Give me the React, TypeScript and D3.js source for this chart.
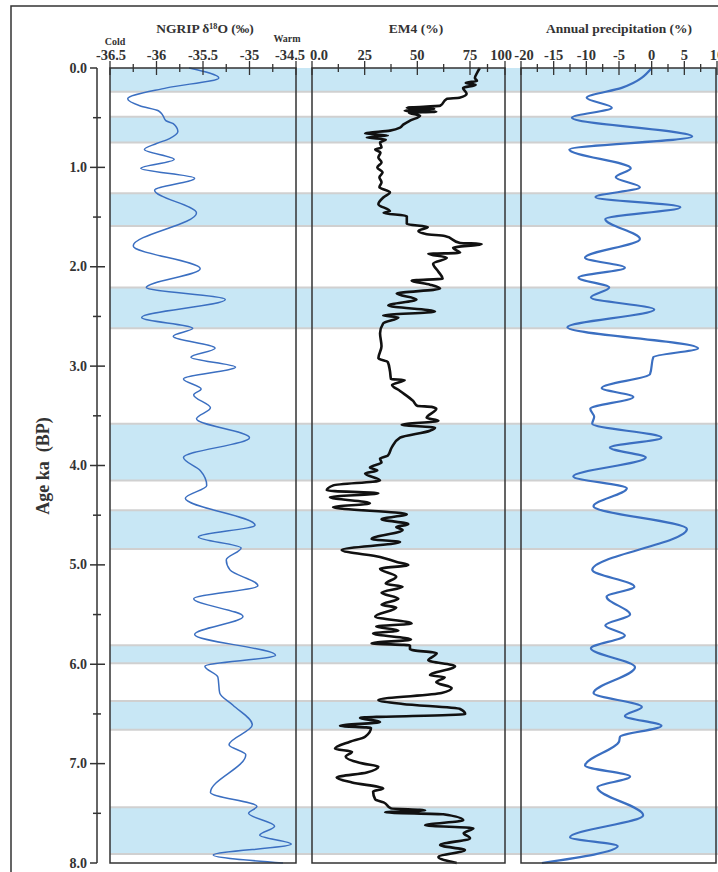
import React from 'react';
import * as d3 from 'd3';

// NGRIP d18O (per mil) vs age (ka BP)
const ngripAge = [0.0, 0.1, 0.2, 0.31, 0.38, 0.43, 0.48, 0.53, 0.56, 0.64, 0.71, 0.76, 0.82, 0.92, 1.01, 1.11, 1.23, 1.46, 1.79, 2.02, 2.21, 2.33, 2.51, 2.62, 2.7, 2.82, 2.91, 3.01, 3.13, 3.23, 3.29, 3.42, 3.53, 3.72, 3.92, 4.05, 4.2, 4.33, 4.6, 4.72, 4.83, 4.95, 5.05, 5.21, 5.34, 5.52, 5.7, 5.91, 6.02, 6.13, 6.29, 6.41, 6.61, 6.81, 6.91, 7.29, 7.43, 7.5, 7.63, 7.72, 7.81, 7.92, 8.0];
const ngripVal = [-35.65, -35.33, -35.89, -36.31, -36.18, -35.98, -35.93, -35.9, -35.82, -35.77, -35.86, -36.0, -36.13, -35.81, -36.17, -35.59, -36.02, -35.57, -36.25, -35.53, -36.11, -35.26, -36.16, -35.61, -35.82, -35.37, -35.63, -35.15, -35.71, -35.52, -35.6, -35.42, -35.57, -35.0, -35.71, -35.53, -35.46, -35.69, -34.94, -35.55, -35.09, -35.25, -35.21, -34.91, -35.6, -35.07, -35.59, -34.72, -35.48, -35.34, -35.32, -35.18, -34.97, -35.22, -35.04, -35.42, -34.92, -35.01, -34.73, -34.89, -34.55, -35.39, -34.64];

// EM4 (%) vs age
const em4Age = [0.0, 0.05, 0.1, 0.13, 0.15, 0.17, 0.2, 0.26, 0.3, 0.31, 0.38, 0.4, 0.41, 0.43, 0.44, 0.45, 0.48, 0.53, 0.57, 0.6, 0.63, 0.66, 0.68, 0.7, 0.72, 0.75, 0.8, 0.82, 0.85, 0.9, 0.95, 1.0, 1.05, 1.1, 1.15, 1.2, 1.25, 1.3, 1.37, 1.44, 1.46, 1.49, 1.57, 1.6, 1.64, 1.67, 1.69, 1.76, 1.77, 1.81, 1.86, 1.87, 1.91, 1.97, 2.05, 2.12, 2.14, 2.18, 2.22, 2.27, 2.33, 2.39, 2.45, 2.49, 2.51, 2.57, 2.67, 2.8, 2.92, 2.96, 3.05, 3.13, 3.14, 3.19, 3.25, 3.35, 3.4, 3.41, 3.43, 3.52, 3.55, 3.59, 3.62, 3.65, 3.72, 3.82, 3.9, 3.93, 3.97, 4.02, 4.05, 4.08, 4.15, 4.2, 4.25, 4.28, 4.32, 4.38, 4.42, 4.49, 4.54, 4.59, 4.62, 4.65, 4.74, 4.77, 4.85, 4.92, 4.97, 5.0, 5.04, 5.12, 5.19, 5.22, 5.28, 5.34, 5.4, 5.43, 5.52, 5.59, 5.62, 5.66, 5.69, 5.75, 5.79, 5.81, 5.85, 5.89, 5.96, 6.02, 6.11, 6.13, 6.18, 6.24, 6.29, 6.36, 6.4, 6.45, 6.5, 6.54, 6.58, 6.62, 6.64, 6.73, 6.78, 6.85, 6.88, 6.93, 7.0, 7.03, 7.09, 7.14, 7.19, 7.25, 7.28, 7.36, 7.39, 7.45, 7.47, 7.49, 7.51, 7.57, 7.62, 7.65, 7.7, 7.75, 7.82, 7.87, 7.94, 8.0];
const em4Val = [82, 80, 78.5, 80, 73, 79, 71.7, 73.4, 70, 64, 60.8, 45, 58, 44, 59, 46, 51.3, 46.5, 43.3, 41.8, 37, 25.2, 36, 26, 35, 32.3, 33, 30, 32.5, 31.5, 33, 31, 33.5, 32, 33, 32, 37, 34, 31.5, 37, 34, 45, 45, 55, 50.5, 54, 63, 70.3, 83.3, 67, 70.3, 55.2, 64, 57.5, 60, 62, 47.3, 56, 60.8, 40.2, 49.6, 36.2, 58.4, 33.8, 41, 33.8, 32.3, 33, 31.5, 36, 37, 37.5, 44, 38, 41.8, 48, 50, 56.8, 59, 54.4, 60, 42.6, 58.4, 56, 41.8, 37.8, 36, 32.3, 33, 27.5, 31, 25.2, 32.3, 10.1, 7, 31.5, 8.5, 27.5, 10, 45, 33, 45.7, 40, 43, 28.3, 41.8, 14.1, 32.3, 40.2, 45.7, 32.3, 40, 35, 43, 33, 41, 33, 40, 30, 47.3, 30.5, 41, 29, 47, 28.3, 46.5, 46.5, 59.2, 55.2, 67.9, 56, 63, 59, 66.3, 61.5, 31.5, 43, 70.3, 72.7, 22.8, 32.3, 13.3, 28, 25.2, 18, 10.9, 19, 16, 24.4, 31.5, 26, 11.7, 19, 33.8, 29, 30, 34, 37.5, 53.7, 34.7, 62.3, 71.8, 53.7, 77.4, 72, 75, 60.8, 72.6, 60, 68.7];

// Annual precipitation anomaly (%) vs age
const precAge = [0.0, 0.2, 0.3, 0.4, 0.5, 0.69, 0.82, 1.01, 1.1, 1.2, 1.3, 1.4, 1.52, 1.72, 1.91, 2.01, 2.11, 2.21, 2.31, 2.43, 2.61, 2.82, 2.91, 3.08, 3.22, 3.31, 3.43, 3.51, 3.58, 3.72, 3.82, 3.92, 4.11, 4.23, 4.41, 4.64, 5.05, 5.22, 5.32, 5.5, 5.61, 5.71, 5.84, 6.03, 6.29, 6.43, 6.52, 6.62, 6.73, 6.78, 7.02, 7.13, 7.24, 7.52, 7.74, 7.83, 8.0];
const precVal = [0, -4.6, -9.95, -6.1, -12.2, 6.2, -12.6, -3.2, -5.5, -1.8, -8.6, 4.4, -7.1, -1.8, -10.2, -4.1, -11.2, -6.5, -9.3, 0.4, -12.9, 7.1, 0.25, -0.25, -7.65, -2.8, -9.4, -8.8, -9.1, 1.5, -6.4, -0.9, -12.0, -3.8, -8.9, 5.4, -9.1, -2.65, -6.9, -3.3, -7.1, -4.1, -9.3, -2.55, -8.9, -1.5, -4.1, 1.5, -4.85, -5.0, -10.2, -3.3, -8.3, -1.3, -12.5, -5.2, -16.8];

// shaded intervals (ka)
const bandStart = [0.0, 0.49, 1.26, 2.21, 3.58, 4.45, 5.81, 6.37, 7.44];
const bandEnd = [0.24, 0.75, 1.59, 2.62, 4.15, 4.84, 5.99, 6.66, 7.91];

const ageMajor = [0, 1, 2, 3, 4, 5, 6, 7, 8];
const ageMinor = [0.5, 1.5, 2.5, 3.5, 4.5, 5.5, 6.5, 7.5];

const ngripMajor = [-36.5, -36, -35.5, -35, -34.5];
const ngripMinor = [-36.25, -35.75, -35.25, -34.75];
const ngripLabels = ['-36.5', '-36', '-35.5', '-35', '-34.5'];
const em4Major = [0, 25, 50, 75, 100];
const em4Minor = [12.5, 37.5, 62.5, 87.5];
const em4Labels = ['0.0', '25', '50', '75', '100'];
const precMajor = [-20, -15, -10, -5, 0, 5, 10];
const precMinor = [-17.5, -12.5, -7.5, -2.5, 2.5, 7.5];
const precLabels = ['-20', '-15', '-10', '-5', '0', '5', '10'];

const font = '"Liberation Serif", "Times New Roman", serif';
const blue = '#3b6fc1';

export default function App() {
  const y = d3.scaleLinear().domain([0, 8]).range([68, 863]);
  const top = y(0);
  const bottom = y(8);

  const xN = d3.scaleLinear().domain([-36.5, -34.5]).range([110, 296]);
  const xE = d3.scaleLinear().domain([0, 75, 100]).range([312, 470, 505]);
  const xP = d3.scaleLinear().domain([-20, 10]).range([521, 717]);

  const panels = [
    { x: xN, major: ngripMajor, minor: ngripMinor, labels: ngripLabels, shift: [1, 0, 0, 0, -6], left: 110, right: 296, title: 'NGRIP δ\u00B9\u2078O (‰)', cx: 205 },
    { x: xE, major: em4Major, minor: em4Minor, labels: em4Labels, shift: [7, 0, 0, 0, -4], left: 312, right: 505, title: 'EM4 (%)', cx: 416 },
    { x: xP, major: precMajor, minor: precMinor, labels: precLabels, shift: [3, 0, 0, 0, 0, 0, 0], left: 521, right: 716, title: 'Annual precipitation (%)', cx: 619 },
  ];

  const mk = (sx: any, ages: number[], vals: number[]) =>
    d3.line<number>()
      .x((_, i) => sx(vals[i]))
      .y((a) => y(a))
      .curve(d3.curveMonotoneY)(ages) as string;

  return (
    <svg width={718} height={872} style={{ position: 'absolute', left: 0, top: 0, background: '#fff' }} fontFamily={font} fontWeight="bold">
      <rect x={11} y={6} width={730} height={890} fill="none" stroke="#333" strokeWidth={1.5} />

      {bandStart.map((s, i) => (
        <g key={'b' + i}>
          <rect x={110} y={y(s)} width={610} height={y(bandEnd[i]) - y(s)} fill="#c8e7f5" />
          {s > 0 && <line x1={110} x2={720} y1={y(s)} y2={y(s)} stroke="#d0d0d0" strokeWidth={2} />}
          <line x1={110} x2={720} y1={y(bandEnd[i])} y2={y(bandEnd[i])} stroke="#d0d0d0" strokeWidth={2} />
        </g>
      ))}

      <path d={mk(xN, ngripAge, ngripVal)} fill="none" stroke={blue} strokeWidth={1.5} />
      <path d={mk(xE, em4Age, em4Val)} fill="none" stroke="#111" strokeWidth={2.6} strokeLinejoin="round" />
      <path d={mk(xP, precAge, precVal)} fill="none" stroke={blue} strokeWidth={2.2} />

      {panels.map((p, k) => (
        <g key={'p' + k}>
          <rect x={p.left} y={top} width={p.right - p.left} height={bottom - top} fill="none" stroke="#333" strokeWidth={1.5} />
          {p.major.map((v) => (
            <line key={'M' + v} x1={p.x(v)} x2={p.x(v)} y1={top - 7} y2={top + 7} stroke="#333" strokeWidth={1.3} />
          ))}
          {p.minor.map((v) => (
            <line key={'m' + v} x1={p.x(v)} x2={p.x(v)} y1={top - 4} y2={top + 4} stroke="#333" strokeWidth={1.3} />
          ))}
          {p.major.map((v, i) => (
            <text key={'t' + v} x={p.x(v) + p.shift[i]} y={60} textAnchor="middle" fontSize={14.5} fill="#333">{p.labels[i]}</text>
          ))}
          <text x={p.cx} y={33} textAnchor="middle" fontSize={13.5} fill="#333">{p.title}</text>
        </g>
      ))}

      <text x={115} y={45} textAnchor="middle" fontSize={10} fill="#333">Cold</text>
      <text x={287} y={42} textAnchor="middle" fontSize={10} fill="#333">Warm</text>

      <line x1={97} x2={97} y1={top} y2={bottom} stroke="#333" strokeWidth={1.5} />
      {ageMajor.map((a) => (
        <g key={'a' + a}>
          <line x1={90} x2={a === 0 || a === 8 ? 97 : 105} y1={y(a)} y2={y(a)} stroke="#333" strokeWidth={1.5} />
          <text x={87} y={y(a) + 4.5} textAnchor="end" fontSize={14} fill="#333">{a.toFixed(1)}</text>
        </g>
      ))}
      {ageMinor.map((a) => (
        <line key={'am' + a} x1={93} x2={101} y1={y(a)} y2={y(a)} stroke="#333" strokeWidth={1.5} />
      ))}
      <text transform="translate(49,466) rotate(-90)" textAnchor="middle" fontSize={18} fill="#333" style={{ whiteSpace: 'pre' }}>{'Age ka  (BP)'}</text>
    </svg>
  );
}
